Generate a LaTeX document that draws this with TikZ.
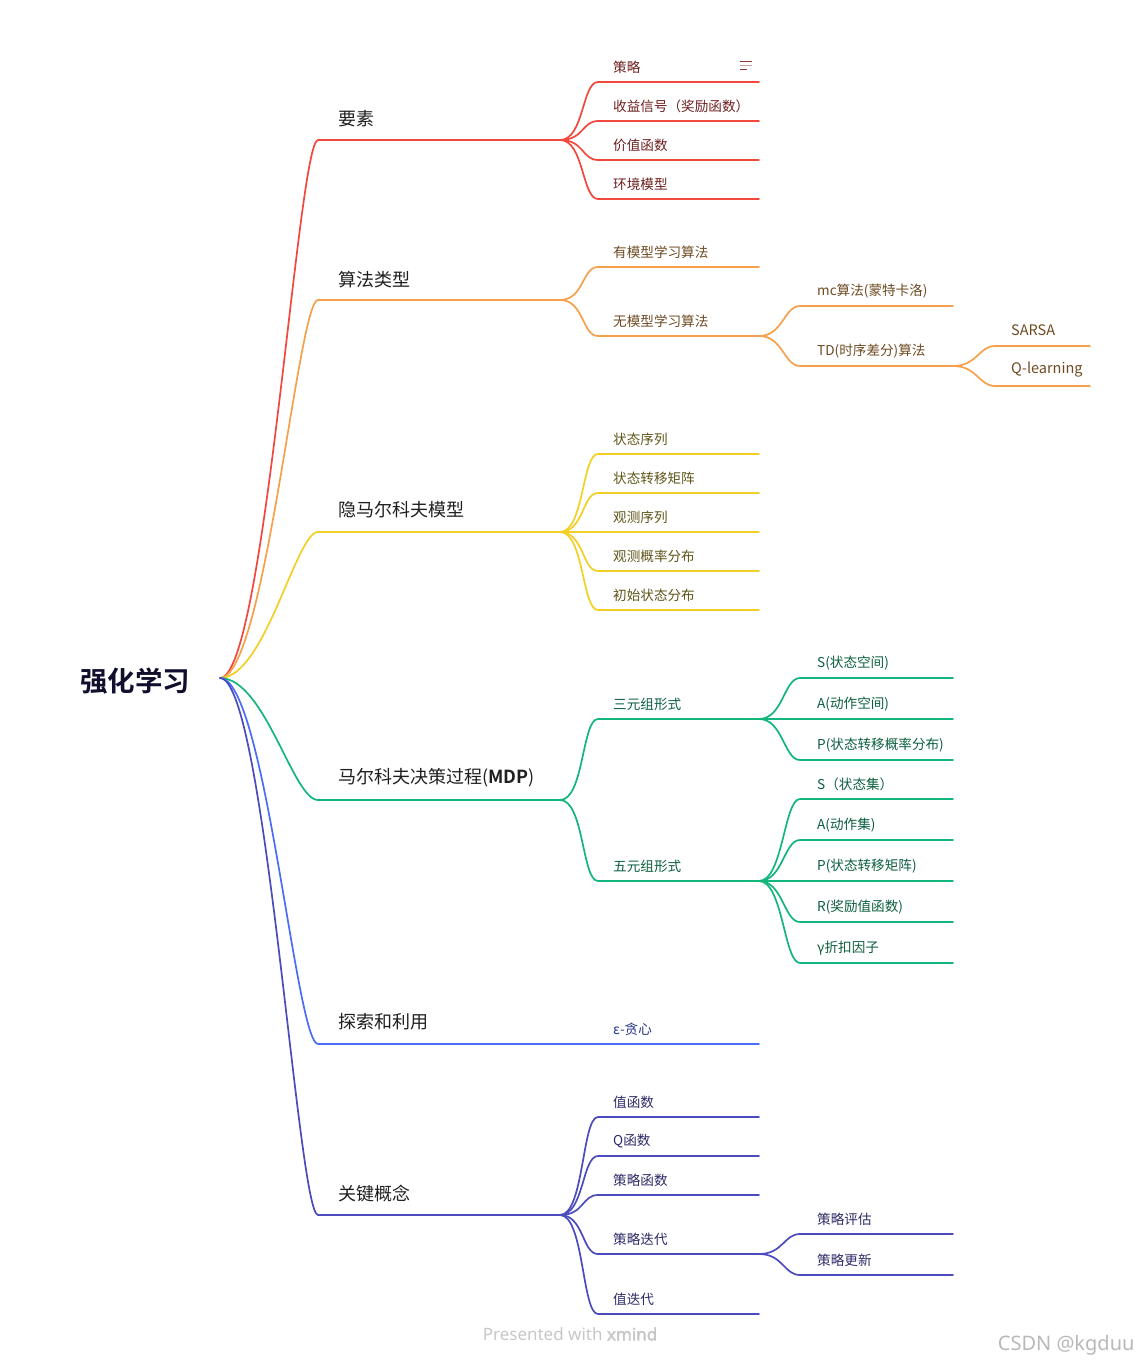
\documentclass[tikz,border=0pt]{standalone}
\usepackage{fontspec}
\setmainfont{Noto Sans CJK SC}[BoldFont={Noto Sans CJK SC Bold}]
\newfontfamily\markfont{Noto Sans}[AutoFakeBold=2.5]
\usepackage{tikz}

\definecolor{cRed}{HTML}{F2473D}
\definecolor{cOrange}{HTML}{F7A04B}
\definecolor{cYellow}{HTML}{F3CF26}
\definecolor{cGreen}{HTML}{13B67A}
\definecolor{cBlue}{HTML}{4A6CF7}
\definecolor{cIndigo}{HTML}{4B4BBE}
\definecolor{tRed}{HTML}{6E1E1E}
\definecolor{tOrange}{HTML}{6E4A22}
\definecolor{tYellow}{HTML}{5E5418}
\definecolor{tGreen}{HTML}{0B5E3E}
\definecolor{tBlue}{HTML}{23348A}
\definecolor{tIndigo}{HTML}{2C2A66}
\definecolor{rootink}{HTML}{10102E}
\definecolor{noteink}{HTML}{8B3A3A}

\begin{document}
\begin{tikzpicture}[x=1pt, y=-1pt,
  edge/.style={line width=1.7pt, line cap=round},
  mainlbl/.style={anchor=west, inner sep=0pt, font=\fontsize{18}{18}\selectfont, text=black!88},
  sublbl/.style={anchor=west, inner sep=0pt, font=\fontsize{13.6}{14}\selectfont},
  deeplbl/.style={anchor=west, inner sep=0pt, font=\fontsize{14.5}{15}\selectfont}
]
  \useasboundingbox (0,0) rectangle (1141,1365);

  % root
  \node[font=\bfseries\fontsize{27.5}{28}\selectfont, text=rootink] (root) at (135,681) {强化学习};
  \coordinate (root-r) at (220,678);

  % 要素
  \coordinate (el-a) at (318,140);
  \coordinate (el-b) at (560,140);
  \node[mainlbl] (el) at (338,119) {要素};
  \draw[edge, cRed] (root-r) .. controls +(45,0) and +(-20,0) .. (el-a) -- (el-b);
  \foreach \t/\y [count=\i] in {策略/82, 收益信号（奖励函数）/121, 价值函数/160, 环境模型/199}{
    \coordinate (el\i-a) at (598,\y);
    \coordinate (el\i-b) at (759,\y);
    \node[sublbl, text=tRed] (el\i) at (613,\y-15) {\t};
    \draw[edge, cRed] (el-b) .. controls +(24,0) and +(-16,0) .. (el\i-a) -- (el\i-b);
  }
  \draw[line width=1pt, noteink] (740,61) -- (752,61);
  \draw[line width=1pt, noteink!45] (740,65) -- (752,65);
  \draw[line width=1pt, noteink] (740,69) -- (747,69);

  % 算法类型
  \coordinate (al-a) at (318,300);
  \coordinate (al-b) at (560,300);
  \node[mainlbl] (al) at (338,280) {算法类型};
  \draw[edge, cOrange] (root-r) .. controls +(45,0) and +(-20,0) .. (al-a) -- (al-b);
  \foreach \t/\y [count=\i] in {有模型学习算法/267, 无模型学习算法/336}{
    \coordinate (al\i-a) at (598,\y);
    \coordinate (al\i-b) at (759,\y);
    \node[sublbl, text=tOrange] (al\i) at (613,\y-15) {\t};
    \draw[edge, cOrange] (al-b) .. controls +(24,0) and +(-16,0) .. (al\i-a) -- (al\i-b);
  }
  \foreach \t/\y [count=\i] in {mc算法(蒙特卡洛)/306, TD(时序差分)算法/366}{
    \coordinate (mf\i-a) at (800,\y);
    \coordinate (mf\i-b) at (953,\y);
    \node[sublbl, text=tOrange] (mf\i) at (817,\y-15) {\t};
    \draw[edge, cOrange] (al2-b) .. controls +(24,0) and +(-16,0) .. (mf\i-a) -- (mf\i-b);
  }
  \foreach \t/\y [count=\i] in {SARSA/346, Q-learning/386}{
    \coordinate (td\i-a) at (995,\y);
    \coordinate (td\i-b) at (1090,\y);
    \node[deeplbl, text=tOrange] (td\i) at (1011,\y-16) {\t};
    \draw[edge, cOrange] (mf2-b) .. controls +(24,0) and +(-16,0) .. (td\i-a) -- (td\i-b);
  }

  % 隐马尔科夫模型
  \coordinate (hm-a) at (318,532);
  \coordinate (hm-b) at (560,532);
  \node[mainlbl] (hm) at (338,510) {隐马尔科夫模型};
  \draw[edge, cYellow] (root-r) .. controls +(45,0) and +(-22,0) .. (hm-a) -- (hm-b);
  \foreach \t/\y [count=\i] in {状态序列/454, 状态转移矩阵/493, 观测序列/532, 观测概率分布/571, 初始状态分布/610}{
    \coordinate (hm\i-a) at (598,\y);
    \coordinate (hm\i-b) at (759,\y);
    \node[sublbl, text=tYellow] (hm\i) at (613,\y-15) {\t};
    \draw[edge, cYellow] (hm-b) .. controls +(24,0) and +(-16,0) .. (hm\i-a) -- (hm\i-b);
  }

  % 马尔科夫决策过程
  \coordinate (md-a) at (318,800);
  \coordinate (md-b) at (560,800);
  \node[mainlbl] (md) at (338,778) {马尔科夫决策过程(\textbf{MDP})};
  \draw[edge, cGreen] (root-r) .. controls +(45,0) and +(-25,0) .. (md-a) -- (md-b);
  \foreach \t/\y [count=\i] in {三元组形式/719, 五元组形式/881}{
    \coordinate (md\i-a) at (598,\y);
    \coordinate (md\i-b) at (759,\y);
    \node[sublbl, text=tGreen] (md\i) at (613,\y-15) {\t};
    \draw[edge, cGreen] (md-b) .. controls +(24,0) and +(-16,0) .. (md\i-a) -- (md\i-b);
  }
  \foreach \t/\y [count=\i] in {S(状态空间)/678, A(动作空间)/719, P(状态转移概率分布)/760}{
    \coordinate (tr\i-a) at (800,\y);
    \coordinate (tr\i-b) at (953,\y);
    \node[sublbl, text=tGreen] (tr\i) at (817,\y-15) {\t};
    \draw[edge, cGreen] (md1-b) .. controls +(24,0) and +(-16,0) .. (tr\i-a) -- (tr\i-b);
  }
  \foreach \t/\y [count=\i] in {S（状态集）/799, A(动作集)/840, P(状态转移矩阵)/881, R(奖励值函数)/922, γ折扣因子/963}{
    \coordinate (fv\i-a) at (800,\y);
    \coordinate (fv\i-b) at (953,\y);
    \node[sublbl, text=tGreen] (fv\i) at (817,\y-15) {\t};
    \draw[edge, cGreen] (md2-b) .. controls +(24,0) and +(-16,0) .. (fv\i-a) -- (fv\i-b);
  }

  % 探索和利用
  \coordinate (ex-a) at (318,1044);
  \coordinate (ex-b) at (560,1044);
  \node[mainlbl] (ex) at (338,1022) {探索和利用};
  \draw[edge, cBlue] (root-r) .. controls +(45,0) and +(-22,0) .. (ex-a) -- (ex-b);
  \coordinate (ex1-a) at (598,1044);
  \coordinate (ex1-b) at (759,1044);
  \node[sublbl, text=tBlue] (ex1) at (613,1029) {ε-贪心};
  \draw[edge, cBlue] (ex-b) -- (ex1-a) -- (ex1-b);

  % 关键概念
  \coordinate (kc-a) at (318,1215);
  \coordinate (kc-b) at (560,1215);
  \node[mainlbl] (kc) at (338,1194) {关键概念};
  \draw[edge, cIndigo] (root-r) .. controls +(45,0) and +(-20,0) .. (kc-a) -- (kc-b);
  \foreach \t/\y [count=\i] in {值函数/1117, Q函数/1156, 策略函数/1195, 策略迭代/1254, 值迭代/1314}{
    \coordinate (kc\i-a) at (598,\y);
    \coordinate (kc\i-b) at (759,\y);
    \node[sublbl, text=tIndigo] (kc\i) at (613,\y-15) {\t};
    \draw[edge, cIndigo] (kc-b) .. controls +(24,0) and +(-16,0) .. (kc\i-a) -- (kc\i-b);
  }
  \foreach \t/\y [count=\i] in {策略评估/1234, 策略更新/1275}{
    \coordinate (pi\i-a) at (800,\y);
    \coordinate (pi\i-b) at (953,\y);
    \node[sublbl, text=tIndigo] (pi\i) at (817,\y-15) {\t};
    \draw[edge, cIndigo] (kc4-b) .. controls +(24,0) and +(-16,0) .. (pi\i-a) -- (pi\i-b);
  }

  % watermarks
  \node[font=\markfont\fontsize{17}{17}\selectfont, text=black!22] (wm) at (570,1334) {Presented with \textbf{xmind}};
  \node[anchor=east, font=\markfont\fontsize{20}{20}\selectfont, text=black!28] (csdn) at (1138,1345) {CSDN @kgduu};
\end{tikzpicture}
\end{document}
